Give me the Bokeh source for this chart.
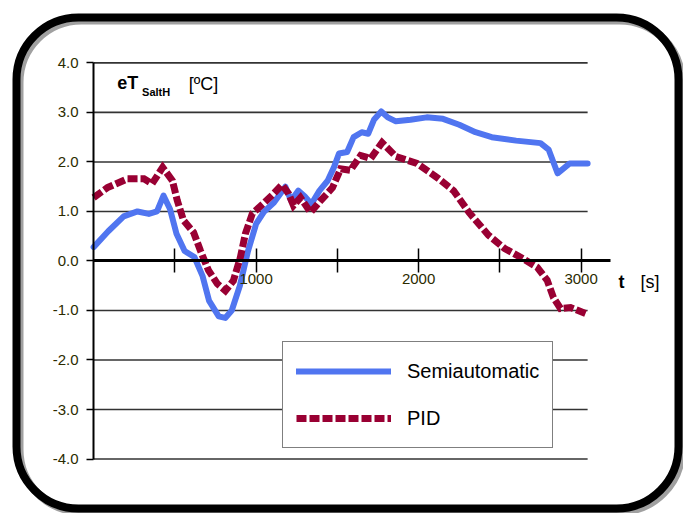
from bokeh.plotting import figure
from bokeh.models import Range1d, FixedTicker, Legend, LegendItem, Label, BoxAnnotation
from bokeh.embed import file_html
from bokeh.resources import INLINE

# ---- data ----
t_semi = [0, 90, 185, 270, 340, 390, 430, 470, 510, 560, 620, 670, 710, 770, 810,
          850, 900, 950, 1000, 1050, 1110, 1180, 1215, 1260, 1300, 1340, 1390, 1440,
          1480, 1510, 1560, 1600, 1650, 1690, 1725, 1770, 1810, 1860, 1950, 2050,
          2150, 2250, 2350, 2450, 2600, 2750, 2800, 2855, 2930, 3040]
e_semi = [0.28, 0.60, 0.90, 1.00, 0.95, 1.00, 1.32, 1.05, 0.55, 0.20, 0.08, -0.30,
          -0.80, -1.12, -1.15, -1.00, -0.50, 0.20, 0.75, 1.00, 1.18, 1.50, 1.22, 1.42,
          1.30, 1.15, 1.42, 1.62, 1.90, 2.17, 2.20, 2.50, 2.60, 2.57, 2.85, 3.02, 2.90,
          2.82, 2.85, 2.90, 2.87, 2.75, 2.60, 2.50, 2.43, 2.38, 2.25, 1.77, 1.97, 1.97]

t_pid = [0, 85, 208, 310, 360, 425, 485, 515, 553, 615, 657, 707, 761, 811, 860,
         903, 934, 977, 1045, 1108, 1160, 1200, 1230, 1273, 1335, 1397, 1470, 1520,
         1580, 1643, 1705, 1775, 1860, 1990, 2120, 2215, 2310, 2430, 2530, 2630,
         2730, 2791, 2830, 2873, 2935, 3040]
e_pid = [1.28, 1.48, 1.66, 1.66, 1.56, 1.89, 1.62, 1.22, 0.82, 0.58, 0.21, -0.19,
         -0.46, -0.60, -0.40, 0.07, 0.55, 0.96, 1.16, 1.36, 1.54, 1.36, 1.12, 1.28,
         0.98, 1.22, 1.48, 1.86, 1.83, 2.13, 2.07, 2.39, 2.11, 1.97, 1.67, 1.42,
         0.98, 0.52, 0.25, 0.07, -0.13, -0.39, -0.74, -0.96, -0.94, -1.08]

y_ticks = [-4, -3, -2, -1, 0, 1, 2, 3, 4]
y_tick_labels = ["-4.0", "-3.0", "-2.0", "-1.0", "0.0", "1.0", "2.0", "3.0", "4.0"]
x_ticks = [500, 1000, 1500, 2000, 2500, 3000]
x_tick_labels = ["", "1000", "", "2000", "", "3000"]
series_names = ["Semiautomatic", "PID"]

FONT = "Liberation Sans"
TICK_COLOR = "#2b2b00"
GRID_END = 3040
W, H = 683, 513

# The plot frame covers the whole canvas; both axes are pinned inside it.
p = figure(width=W, height=H, output_backend="svg", toolbar_location=None,
           x_range=Range1d(-573, 3630), y_range=Range1d(-5.10, 5.26),
           min_border=0, min_border_left=0, min_border_right=0,
           min_border_top=0, min_border_bottom=0,
           background_fill_color="white", border_fill_color="white")
p.outline_line_color = None
p.xgrid.visible = False
p.ygrid.visible = False

# horizontal grid lines
n = len(y_ticks)
p.segment(x0=[0] * n, y0=y_ticks, x1=[GRID_END] * n, y1=y_ticks,
          line_color="#333333", line_width=1.6)

# y axis at t = 0
ya = p.yaxis[0]
ya.fixed_location = 0
ya.ticker = FixedTicker(ticks=y_ticks)
ya.major_label_overrides = {t: s for t, s in zip(y_ticks, y_tick_labels)}
ya.bounds = (-4, 4)
ya.axis_line_width = 2
ya.axis_line_color = "black"
ya.major_tick_in = 0
ya.major_tick_out = 7
ya.major_tick_line_width = 1.5
ya.major_tick_line_color = "black"
ya.minor_tick_line_color = None
ya.major_label_standoff = 8
ya.major_label_text_font = FONT
ya.major_label_text_font_size = "15px"
ya.major_label_text_color = TICK_COLOR

# x axis at e = 0
xa = p.xaxis[0]
xa.fixed_location = 0
xa.ticker = FixedTicker(ticks=x_ticks)
xa.major_label_overrides = {t: s for t, s in zip(x_ticks, x_tick_labels)}
xa.bounds = (0, 3180)
xa.axis_line_width = 3
xa.axis_line_color = "black"
xa.major_tick_in = 12
xa.major_tick_out = 12
xa.major_tick_line_width = 1.5
xa.major_tick_line_color = "black"
xa.minor_tick_line_color = None
xa.major_label_standoff = 1
xa.major_label_text_font = FONT
xa.major_label_text_font_size = "15px"
xa.major_label_text_color = TICK_COLOR

r_semi = p.line(t_semi, e_semi, line_color="#5075f0", line_width=6,
                line_join="round", line_cap="round")
r_pid = p.line(t_pid, e_pid, line_color="#990033", line_width=7,
               line_dash="10 3", line_join="miter", line_cap="butt")

legend = Legend(items=[LegendItem(label=series_names[0], renderers=[r_semi]),
                       LegendItem(label=series_names[1], renderers=[r_pid])],
                location=(282, 65), orientation="vertical",
                padding=13, spacing=15, margin=0,
                glyph_width=95, glyph_height=32, label_height=32,
                label_standoff=16, label_text_font=FONT,
                label_text_font_size="20px", label_text_color="black",
                border_line_color="black", border_line_width=1.5,
                background_fill_color="white", background_fill_alpha=1)
p.add_layout(legend, "center")

# y-axis title inside the plot
p.add_layout(Label(x=146, y=3.40, text="eT", text_font=FONT, text_font_size="18px",
                   text_font_style="bold", text_color="black"))
p.add_layout(Label(x=298, y=3.30, text="SaltH", text_font=FONT, text_font_size="11px",
                   text_font_style="bold", text_color="black"))
p.add_layout(Label(x=585, y=3.37, text="[ºC]", text_font=FONT, text_font_size="18px",
                   text_color="black"))

# x-axis title, right of the axis
p.add_layout(Label(x=3230, y=-0.62, text="t", text_font=FONT, text_font_size="18px",
                   text_font_style="bold", text_color="black"))
p.add_layout(Label(x=3365, y=-0.62, text="[s]", text_font=FONT,
                   text_font_size="18px", text_color="black"))

# rounded outer frame with shadow
p.add_layout(BoxAnnotation(left=19, right=681, top=20, bottom=511,
                           left_units="canvas", right_units="canvas",
                           top_units="canvas", bottom_units="canvas",
                           fill_alpha=0, line_color="#a0a0a0", line_width=8,
                           line_alpha=1, border_radius=62, level="overlay"))
p.add_layout(BoxAnnotation(left=16, right=678, top=17, bottom=508,
                           left_units="canvas", right_units="canvas",
                           top_units="canvas", bottom_units="canvas",
                           fill_alpha=0, line_color="black", line_width=8,
                           line_alpha=1, border_radius=62, level="overlay"))

open("out.html", "w").write(file_html(p, INLINE))
